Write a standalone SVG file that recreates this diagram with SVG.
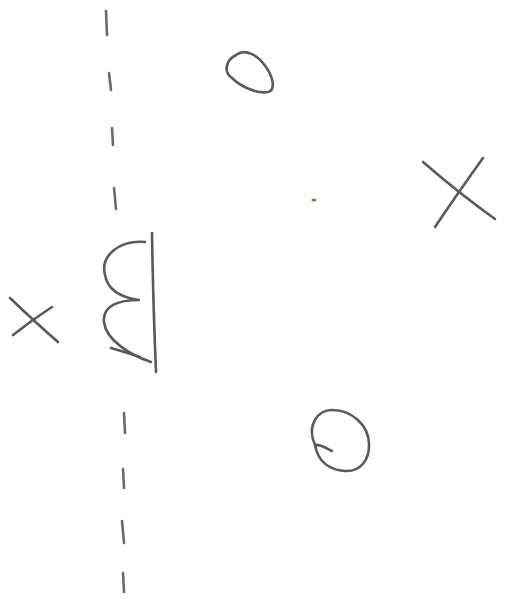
<svg xmlns="http://www.w3.org/2000/svg" width="507" height="602" viewBox="0 0 507 602">
<style>
.s{fill:none;stroke:#5a5a5a;stroke-width:2.6;stroke-linecap:round;stroke-linejoin:round}
.d{fill:none;stroke:#6a6a6a;stroke-width:2.6;stroke-linecap:round}
</style>
<rect width="507" height="602" fill="#ffffff"/>
<g id="dashed-line">
<path class="d" d="M106 11 L107 35"/>
<path class="d" d="M109 73 L111 90"/>
<path class="d" d="M112 128 L113 145"/>
<path class="d" d="M114 188 L116 209"/>
<path class="d" d="M124 413 L125 433"/>
<path class="d" d="M123 469 L124 488"/>
<path class="d" d="M122 521 L124 543"/>
<path class="d" d="M123 573 L124 592"/>
</g>
<g id="wall">
<path class="s" d="M152 233 Q153 300 156 372"/>
<path class="s" d="M145 242 C120 240 100 255 105 275 C108 292 125 298 139 300 C120 300 102 305 104 322 C106 340 130 355 151 362"/>
<path class="s" d="M111 348 Q125 352 140 357"/>
</g>
<g id="x-left">
<path class="s" d="M10 298 Q35 322 58 342"/>
<path class="s" d="M13 335 Q32 320 52 307"/>
</g>
<g id="x-right">
<path class="s" d="M423 162 Q460 194 495 219"/>
<path class="s" d="M435 227 Q460 190 483 158"/>
</g>
<g id="o-top">
<path class="s" d="M236 55 C226 60 223 72 232 78 C240 86 256 94 268 92 C276 90 273 77 266 67 C258 55 245 48 236 55 Z"/>
</g>
<g id="o-bottom">
<path class="s" d="M332 451 C326 448 320 444 315 445 C306 425 318 410 332 410 C352 410 368 425 369 443 C370 460 360 472 345 471 C330 470 318 462 315 445"/>
</g>
<ellipse cx="314" cy="200" rx="2.5" ry="1.6" fill="#b0622e"/>
</svg>
